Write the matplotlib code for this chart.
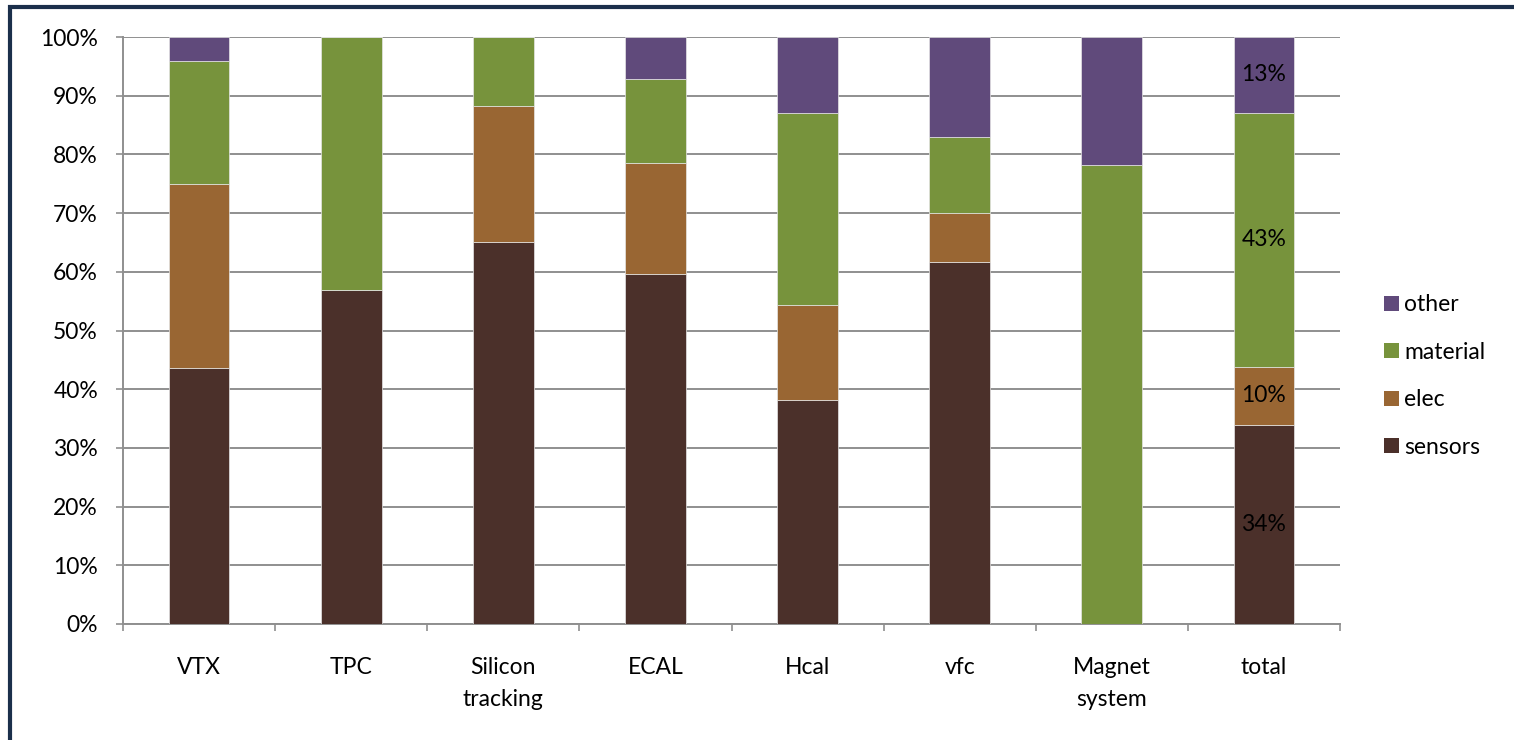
import matplotlib
matplotlib.use("Agg")
import matplotlib.pyplot as plt
from matplotlib.patches import Rectangle, Patch
import numpy as np

plt.rcParams['font.family'] = ['Lato', 'DejaVu Sans']

categories = ["VTX", "TPC", "Silicon\ntracking", "ECAL", "Hcal", "vfc", "Magnet\nsystem", "total"]
series_names = ["sensors", "elec", "material", "other"]
sensors = [43.6, 56.9, 65.1, 59.6, 38.1, 61.6, 0.0, 33.9]
elec = [31.4, 0.0, 23.1, 18.9, 16.2, 8.5, 0.0, 9.9]
material = [20.9, 43.1, 11.8, 14.3, 32.8, 12.9, 78.2, 43.3]
other = [4.1, 0.0, 0.0, 7.2, 12.9, 17.0, 21.8, 12.9]
total_labels = ["34%", "10%", "43%", "13%"]
colors = ["#4B302A", "#996633", "#77933C", "#604A7B"]

FS = 16.5
W, H = 1514, 740
fig = plt.figure(figsize=(W / 100, H / 100), dpi=100)
ax = fig.add_axes([123 / W, (H - 624) / H, (1340 - 123) / W, 587 / H])

x = np.arange(len(categories))
data = [sensors, elec, material, other]
bottom = np.zeros(len(categories))
for name, vals, c in zip(series_names, data, colors):
    v = np.array(vals)
    ax.bar(x, v, 0.4, bottom=bottom, color=c, edgecolor='#e6e6e6', linewidth=0.5, label=name, zorder=3)
    bottom += v

# labels on the total bar
b = 0
for vals, lab in zip(data, total_labels):
    v = vals[-1]
    ax.text(x[-1], b + v / 2, lab, ha='center', va='center', fontsize=FS, color='black', zorder=4)
    b += v

ax.set_xlim(-0.5, len(categories) - 0.5)
ax.set_ylim(0, 100)
ax.set_yticks(np.arange(0, 101, 10))
ax.set_yticklabels([f"{t}%" for t in range(0, 101, 10)], fontsize=FS)
ax.yaxis.grid(True, color='#8f8f8f', linewidth=1.4, zorder=0)
ax.tick_params(axis='y', length=5, width=1.2, color='#8f8f8f', pad=13)

ax.set_xticks(x)
ax.set_xticklabels(categories, fontsize=FS, linespacing=1.62)
ax.set_xticks(np.arange(-0.5, len(categories), 1), minor=True)
ax.tick_params(axis='x', which='major', length=0, pad=24)
ax.tick_params(axis='x', which='minor', length=5, width=1.2, color='#8f8f8f')

for s in ['top', 'right']:
    ax.spines[s].set_visible(False)
for s in ['left', 'bottom']:
    ax.spines[s].set_color('#8f8f8f')
    ax.spines[s].set_linewidth(1.4)

handles = [Patch(facecolor=c, label=n) for n, c in zip(series_names, colors)][::-1]
leg = fig.legend(handles=handles, loc='upper left', bbox_to_anchor=(1373 / W, 1 - 283 / H),
                 frameon=False, fontsize=FS, handlelength=0.62, handleheight=0.62,
                 handletextpad=0.24, labelspacing=1.15, borderpad=0)

# outer frame
fig.patches.append(Rectangle((9.5 / W, -0.05), (W + 20) / W, 1.05 - 7 / H, transform=fig.transFigure,
                             fill=False, edgecolor='#1B2F4B', linewidth=3.0, zorder=10))

fig.savefig("out.png", dpi=100)
